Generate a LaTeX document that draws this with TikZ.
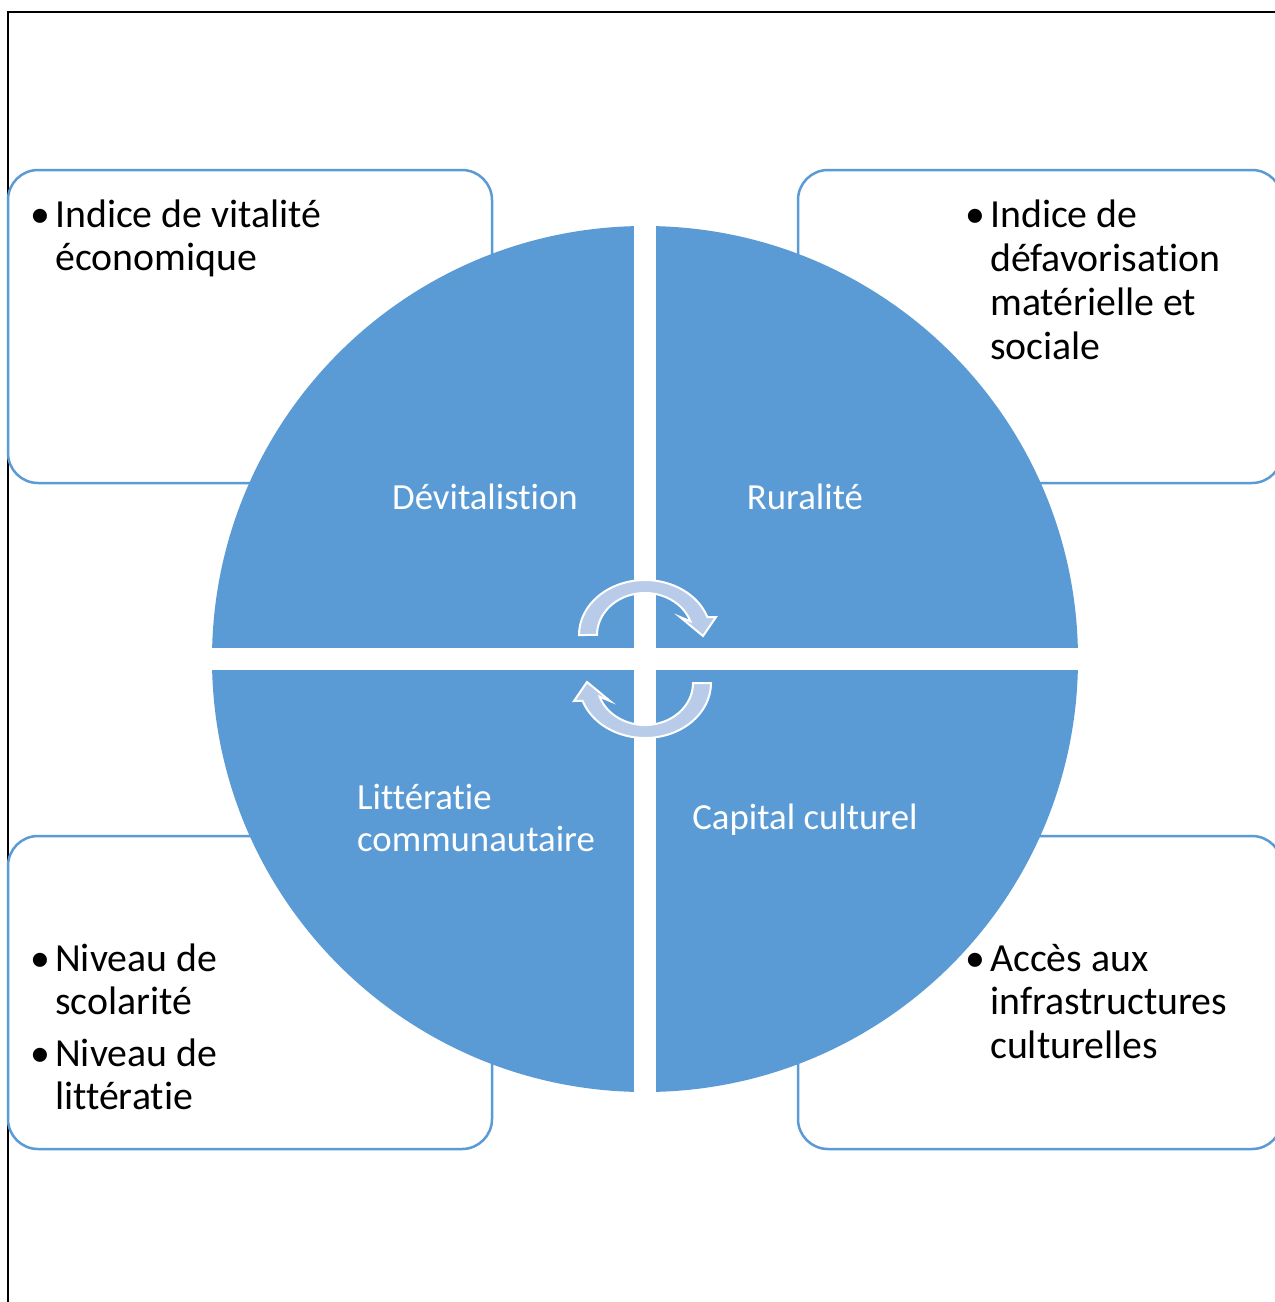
\documentclass[tikz,border=0pt]{standalone}
\usepackage{fontspec}
\setmainfont{Carlito}[Ligatures=NoCommon]
\definecolor{qblue}{HTML}{5B9BD5}
\definecolor{abl}{HTML}{B8CBE8}
\begin{document}
\begin{tikzpicture}[x=1pt,y=-1pt,
 box/.style={draw=qblue, line width=2.5pt, rounded corners=30pt, minimum width=484pt, minimum height=313pt, inner sep=0pt},
 big/.style={font=\fontsize{39.8}{44}\selectfont, inner sep=0pt, anchor=base west, text=black},
 bul/.style={font=\fontsize{39.8}{44}\selectfont, inner sep=0pt, anchor=base, text=black},
 lab/.style={font=\fontsize{36.8}{42}\selectfont, inner sep=0pt, anchor=base, text=white},
 cyc/.style={fill=abl, draw=white, line width=2pt, line join=miter}]
\useasboundingbox (0,0) rectangle (1275,1302);
\clip (0,0) rectangle (1275,1302);
\fill[white] (0,0) rectangle (1275,1302);
% frame
\coordinate (fA) at (8,1310);
\coordinate (fB) at (8,12);
\coordinate (fC) at (1285,12);
\draw[line width=1.5pt] (fA) -- (fB) -- (fC);
% boxes
\node[box] (tl) at (250,326.5) {};
\node[box] (tr) at (1040,326.5) {};
\node[box] (bl) at (250,992.5) {};
\node[box] (br) at (1040,992.5) {};
% circle
\node[circle, fill=qblue, minimum size=866pt, inner sep=0pt] (c) at (645,659) {};
\fill[white] (634,220) rectangle (656,1100);
\fill[white] (200,648) rectangle (1090,670);
% cycle arrows
\path[cyc] (579,635) arc[start angle=180,end angle=341,x radius=66,y radius=55]
  -- (716,617) -- (703,636) -- (680,617) -- (690.4,621.3)
  arc[start angle=341,end angle=180,x radius=48,y radius=42] -- cycle;
\begin{scope}[rotate around={180:(645,659)}]
\path[cyc] (579,635) arc[start angle=180,end angle=341,x radius=66,y radius=55]
  -- (716,617) -- (703,636) -- (680,617) -- (690.4,621.3)
  arc[start angle=341,end angle=180,x radius=48,y radius=42] -- cycle;
\end{scope}
% quadrant labels
\node[lab] (q1) at (485,509) {Dévitalistion};
\node[lab] (q2) at (805,509) {Ruralité};
\node[lab, anchor=base west] (q3a) at (357,809) {Littératie};
\node[lab, anchor=base west] (q3b) at (357,851) {communautaire};
\node[lab] (q4) at (805,829) {Capital culturel};
% top-left text
\node[bul] (b1) at (40,227) {\textbullet};
\node[big] (t1a) at (55,227) {Indice de vitalité};
\node[big] (t1b) at (55,270) {économique};
% top-right text
\node[bul] (b2) at (975,227) {\textbullet};
\node[big] (t2a) at (990,227) {Indice de};
\node[big] (t2b) at (990,271) {défavorisation};
\node[big] (t2c) at (990,315) {matérielle et};
\node[big] (t2d) at (990,359) {sociale};
% bottom-left text
\node[bul] (b3) at (40,971) {\textbullet};
\node[big] (t3a) at (55,971) {Niveau de};
\node[big] (t3b) at (55,1014) {scolarité};
\node[bul] (b4) at (40,1066) {\textbullet};
\node[big] (t3c) at (55,1066) {Niveau de};
\node[big] (t3d) at (55,1109) {littératie};
% bottom-right text
\node[bul] (b5) at (975,971) {\textbullet};
\node[big] (t4a) at (990,971) {Accès aux};
\node[big] (t4b) at (990,1014) {infrastructures};
\node[big] (t4c) at (990,1058) {culturelles};
\end{tikzpicture}
\end{document}
